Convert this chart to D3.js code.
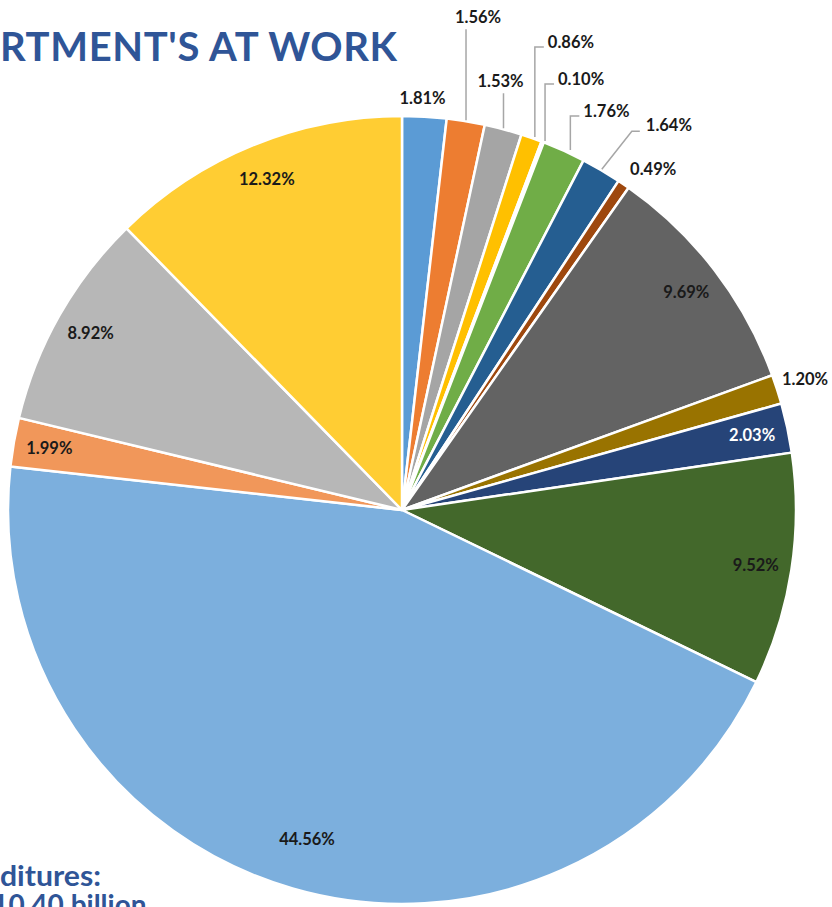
<!DOCTYPE html>
<html><head><meta charset="utf-8">
<script src="https://cdn.jsdelivr.net/npm/d3@7"></script>
<style>
html,body{margin:0;padding:0;background:#fff;overflow:hidden}
svg{display:block}
text{font-family:Lato,"Open Sans",sans-serif;font-weight:700}
</style></head>
<body>
<svg id="chart" width="832" height="907"></svg>
<script>
// ---- data ----
const categories = ["A","B","C","D","E","F","G","H","I","J","K","L","M","N","O","P"];
const values = [1.81,1.56,1.53,0.86,0.10,1.76,1.64,0.49,9.69,1.20,2.03,9.52,44.56,1.99,8.92,12.32];
const labels = ["1.81%","1.56%","1.53%","0.86%","0.10%","1.76%","1.64%","0.49%","9.69%","1.20%","2.03%","9.52%","44.56%","1.99%","8.92%","12.32%"];
const colors = ["#5B9BD5","#ED7D31","#A5A5A5","#FFC000","#4472C4","#70AD47","#255E91","#9E480E",
                "#636363","#997300","#264478","#43682B","#7CAFDD","#F1975A","#B7B7B7","#FFCD33"];
const titleText = "RTMENT'S AT WORK";
const footLines = ["ditures:", "$10.40 billion"];

// ---- layout (not data) ----
const cx = 402, cy = 510, R = 394;
const insideR = 358;
const insideROverride = {12: 342};
const whiteLabel = {10: true};
// outside label placement relative to outer edge point of slice
const outside = {
  0:{dx:-2, dy:-18, anchor:"middle", leader:"none"},
  1:{dx:12, dy:-103, anchor:"middle", leader:"up"},
  2:{dx:-3, dy:-47, anchor:"middle", leader:"up"},
  3:{dx:16, dy:-95, anchor:"start", leader:"elbow"},
  4:{dx:15, dy:-62, anchor:"start", leader:"elbow"},
  5:{dx:19, dy:-39, anchor:"start", leader:"elbow"},
  6:{dx:44, dy:-44, anchor:"start", leader:"diag"},
  7:{dx:29, dy:-14, anchor:"middle", leader:"none"},
  9:{dx:27, dy:-10, anchor:"middle", leader:"none"}
};

const svg = d3.select("#chart");
const g = svg.append("g").attr("transform", `translate(${cx},${cy})`);

const pie = d3.pie().sort(null).value(d => d)(values);
const arc = d3.arc().innerRadius(0).outerRadius(R);

g.selectAll("path.slice").data(pie).join("path")
  .attr("class","slice")
  .attr("d", arc)
  .attr("fill", (d,i) => colors[i])
  .attr("stroke", "#fff")
  .attr("stroke-width", 2.5)
  .attr("stroke-linejoin","round");

function pointAt(d, r){
  const a = (d.startAngle + d.endAngle)/2;
  return [r*Math.sin(a), -r*Math.cos(a)];
}

const fs = 16.5;
pie.forEach((d,i) => {
  if (outside[i]) {
    const o = outside[i];
    const [ox, oy] = pointAt(d, R + 1);
    const lx = ox + o.dx, ly = oy + o.dy;
    g.append("text").attr("x", lx).attr("y", ly)
      .attr("text-anchor", o.anchor).attr("dominant-baseline","central")
      .attr("font-size", fs).attr("fill","#1a1a1a").text(labels[i]);
    let pts = null;
    if (o.leader === "up") pts = [[ox,oy],[ox, ly + 12]];
    else if (o.leader === "elbow") pts = [[lx - 13, oy],[lx - 13, ly + 5],[lx - 4, ly + 5]];
    else if (o.leader === "diag") pts = [[ox,oy],[lx - 14, ly + 6],[lx - 6, ly + 6]];
    if (pts) {
      g.append("path").attr("d", d3.line()(pts))
        .attr("fill","none").attr("stroke","#A6A6A6").attr("stroke-width",1.5);
    }
  } else {
    const r = insideROverride[i] || insideR;
    const [x, y] = pointAt(d, r);
    g.append("text").attr("x", x).attr("y", y)
      .attr("text-anchor","middle").attr("dominant-baseline","central")
      .attr("font-size", fs).attr("fill", whiteLabel[i] ? "#fff" : "#1a1a1a")
      .text(labels[i]);
  }
});

// title (cropped at left in the reference)
svg.append("text").attr("x", 0).attr("y", 61)
  .attr("text-anchor","start").attr("font-size", 40).attr("font-weight", 800)
  .attr("textLength", 397).attr("lengthAdjust","spacing")
  .attr("fill","#2F5597").text(titleText);

// footer text (cropped)
svg.append("text").attr("x", 0).attr("y", 886)
  .attr("text-anchor","start").attr("font-size", 28)
  .attr("textLength", 101).attr("lengthAdjust","spacingAndGlyphs")
  .attr("fill","#2F5597").text(footLines[0]);
svg.append("text").attr("x", -24).attr("y", 915)
  .attr("text-anchor","start").attr("font-size", 28)
  .attr("fill","#2F5597").text(footLines[1]);
</script>
</body></html>
